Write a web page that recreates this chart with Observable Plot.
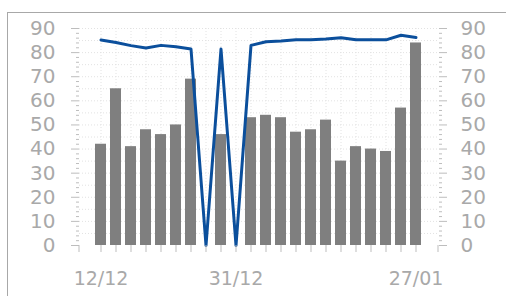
<!DOCTYPE html>
<html>
<head>
<meta charset="utf-8">
<script src="https://cdn.jsdelivr.net/npm/d3@7"></script>
<script src="https://cdn.jsdelivr.net/npm/@observablehq/plot@0.6"></script>
<style>
  html, body { margin: 0; padding: 0; background: #fff; overflow: hidden; }
  #wrap { position: relative; width: 506px; height: 296px; }
  #frame { position: absolute; left: 7px; top: 12px; width: 520px; height: 300px;
           border-left: 1px solid #a8a8a8; border-top: 1px solid #a8a8a8; box-sizing: border-box; }
  #chart { position: absolute; left: 0; top: 0; }
</style>
</head>
<body>
<div id="wrap"><div id="frame"></div><div id="chart"></div></div>
<script>
// Categories (sampling dates) — only three are labelled on the axis
const dates = ["12/12","14/12","16/12","18/12","20/12","22/12","24/12","26/12","29/12","31/12","02/01",
               "04/01","07/01","09/01","11/01","14/01","16/01","18/01","21/01","23/01","25/01","27/01"];
// Gray bars
const barValues = [42, 65, 41, 48, 46, 50, 69, 0, 46, 0, 53, 54, 53, 47, 48, 52, 35, 41, 40, 39, 57, 84];
// Blue line
const lineValues = [85.2, 84.2, 82.9, 81.9, 83.0, 82.4, 81.5, 0, 81.5, 0, 83.0, 84.5, 84.8, 85.3, 85.3, 85.6, 86.2, 85.3, 85.3, 85.3, 87.2, 86.3];
// Tick labels
const xTickLabels = ["12/12", "31/12", "27/01"];
const yTicks = [0, 10, 20, 30, 40, 50, 60, 70, 80, 90];
const yMinorTicks = [2,4,6,8,12,14,16,18,22,24,26,28,32,34,36,38,42,44,46,48,52,54,56,58,62,64,66,68,72,74,76,78,82,84,86,88];
const yGrid = [5,10,15,20,25,30,35,40,45,50,55,60,65,70,75,80,85,90];

const data = dates.map((d, i) => ({date: d, bar: barValues[i], line: lineValues[i]}));

const axisColor = "#bdbdbd";
const textColor = "#a9a9a9";

const chart = Plot.plot({
  width: 506,
  height: 296,
  marginLeft: 79,
  marginRight: 68,
  marginTop: 28,
  marginBottom: 51,
  style: {fontFamily: "DejaVu Sans", fontSize: "20px", background: "transparent", overflow: "visible"},
  x: {type: "band", domain: dates, paddingInner: 0.25, paddingOuter: 0.775, axis: null},
  y: {domain: [0, 90], axis: null},
  marks: [
    Plot.gridX(dates, {stroke: "#e2e2e2", strokeOpacity: 1, strokeDasharray: "1,2"}),
    Plot.ruleY(yGrid, {stroke: "#e2e2e2", strokeDasharray: "1,2"}),
    Plot.barY(data, {x: "date", y: "bar", fill: "#7f7f7f"}),
    Plot.lineY(data, {x: "date", y: "line", stroke: "#0b4f9c", strokeWidth: 3, strokeLinejoin: "round"}),
    // left axis
    Plot.axisY({anchor: "left", label: null, ticks: yTicks, tickSize: 8, tickPadding: 16, stroke: axisColor, fill: textColor, fontSize: 20}),
    Plot.axisY({anchor: "left", label: null, ticks: yMinorTicks, tickSize: 3, text: null, stroke: axisColor}),
    // right axis
    Plot.axisY({anchor: "right", label: null, ticks: yTicks, tickSize: 8, tickPadding: 14, stroke: axisColor, fill: textColor, fontSize: 20}),
    Plot.axisY({anchor: "right", label: null, ticks: yMinorTicks, tickSize: 3, text: null, stroke: axisColor}),
    // bottom axis
    Plot.axisX({anchor: "bottom", label: null, ticks: dates, tickSize: 7, tickPadding: 19, stroke: axisColor, fill: textColor, fontSize: 19,
                tickFormat: d => xTickLabels.includes(d) ? d : ""})
  ]
});

// corner ticks at the ends of the band range
const xr = chart.scale("x").range;
const y0 = chart.scale("y").apply(0);
d3.select(chart).append("g")
  .attr("stroke", axisColor)
  .selectAll("line")
  .data(xr)
  .join("line")
  .attr("x1", d => d).attr("x2", d => d)
  .attr("y1", y0).attr("y2", y0 + 7);

document.getElementById("chart").appendChild(chart);
</script>
</body>
</html>
